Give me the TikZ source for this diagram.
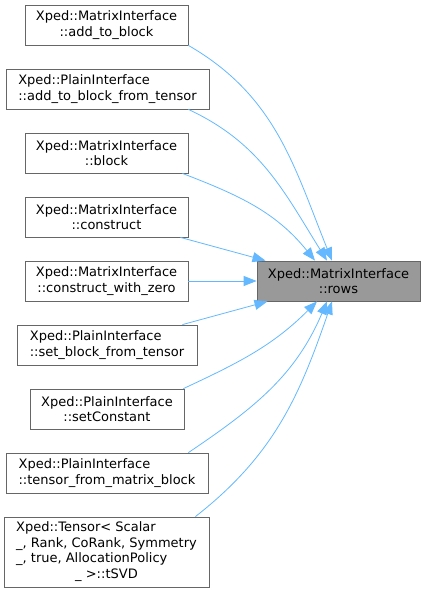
\documentclass[tikz,border=0pt]{standalone}
\usepackage{fontspec}
\setmainfont{DejaVu Sans}
\usetikzlibrary{arrows.meta}
\definecolor{edgeblue}{HTML}{63B8FF}
\definecolor{boxgray}{HTML}{666666}
\definecolor{rowsfill}{HTML}{999999}

\begin{document}
\begin{tikzpicture}[
  x=1pt, y=-1pt,
  font=\fontsize{13}{15.5}\selectfont,
  >={Triangle[length=13pt,width=10pt]},
  fn/.style={draw=boxgray, line width=0.8pt, fill=white, minimum height=40pt,
    inner sep=0pt, align=center},
  fnl/.style={fn, align=left},
  call/.style={->, draw=edgeblue, line width=0.8pt}
]
\path[use as bounding box] (0,0) rectangle (425,592);

% callers
\node[fn, minimum width=163pt] (addblock) at (106.5,25) {Xped::MatrixInterface\\::add\_to\_block};
\node[fnl, minimum width=203pt] (addtensor) at (107.5,89) {Xped::PlainInterface\\::add\_to\_block\_from\_tensor};
\node[fn, minimum width=163pt] (block) at (106.5,153) {Xped::MatrixInterface\\::block};
\node[fn, minimum width=163pt] (construct) at (106.5,217) {Xped::MatrixInterface\\::construct};
\node[fn, minimum width=163pt] (constrzero) at (106.5,281) {Xped::MatrixInterface\\::construct\_with\_zero};
\node[fnl, minimum width=180pt] (setblock) at (107,345) {Xped::PlainInterface\\::set\_block\_from\_tensor};
\node[fn, minimum width=154pt] (setconst) at (107,409) {Xped::PlainInterface\\::setConstant};
\node[fnl, minimum width=202pt] (tensorblock) at (107,473) {Xped::PlainInterface\\::tensor\_from\_matrix\_block};
\node[fn, minimum width=205pt, minimum height=70pt] (tsvd) at (106.5,552)
  {\begin{tabular}{@{}l@{}}Xped::Tensor< Scalar\\\_, Rank, CoRank, Symmetry\\\_, true, AllocationPolicy\\
   \multicolumn{1}{@{}c@{}}{\_ >::tSVD}\end{tabular}};

% callee
\node[fn, fill=rowsfill, minimum width=163pt] (rows) at (338.5,281) {Xped::MatrixInterface\\::rows};

% calls
\draw[call] (addblock.south east) to[out=-30, in=112] ([xshift=-6.5pt]rows.north);
\draw[call] ([xshift=-21pt]addtensor.south east) to[out=-25, in=122] ([xshift=-11.5pt]rows.north);
\draw[call] ([xshift=-6pt]block.south east) to[out=-21, in=129] ([xshift=-23.5pt]rows.north);
\draw[call] ([xshift=-8pt]construct.south east) -- ([xshift=-73pt]rows.north);
\draw[call] (constrzero.east) -- (rows.west);
\draw[call] ([xshift=-15pt]setblock.north east) -- ([xshift=-71pt]rows.south);
\draw[call] ([xshift=-1pt]setconst.north east) to[out=25, in=-135] ([xshift=-21.5pt]rows.south);
\draw[call] ([xshift=-20pt]tensorblock.north east) to[out=34, in=-113] ([xshift=-11.5pt]rows.south);
\draw[call] ([xshift=-14pt]tsvd.north east) to[out=38, in=-109] ([xshift=-6.5pt]rows.south);
\end{tikzpicture}
\end{document}
